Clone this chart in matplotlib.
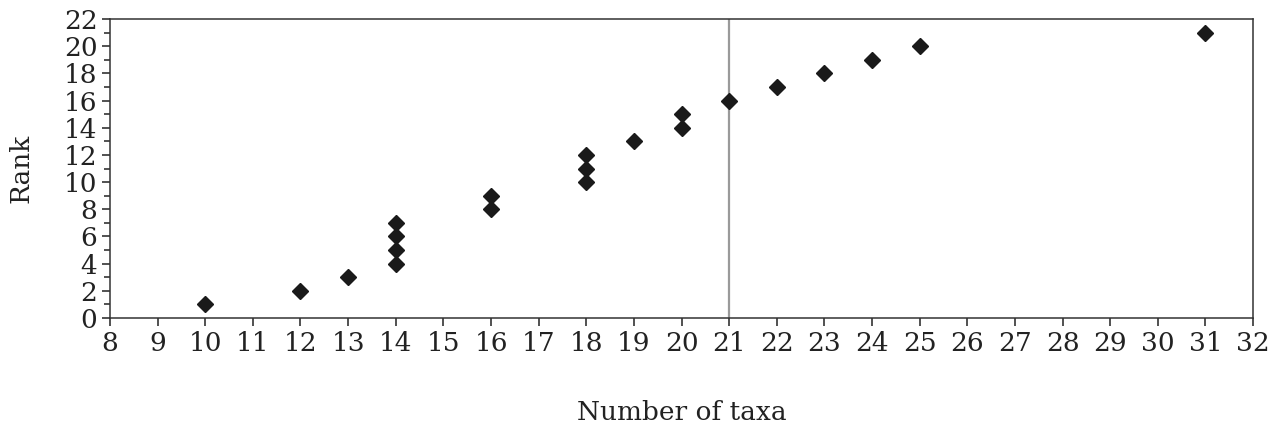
import numpy as np
import matplotlib
matplotlib.use('Agg')
import matplotlib.pyplot as plt

plt.rcParams['font.family'] = 'DejaVu Serif'

# number of taxa and the corresponding rank
taxa = [10, 12, 13, 14, 14, 14, 14, 16, 16, 18, 18, 18, 19, 20, 20, 21, 22, 23, 24, 25, 31]
rank = [1, 2, 3, 4, 5, 6, 7, 8, 9, 10, 11, 12, 13, 14, 15, 16, 17, 18, 19, 20, 21]
cutoff = 21

fig = plt.figure(figsize=(12.76, 4.29), dpi=100)
ax = fig.add_axes([0.0862, 0.2587, 0.8958, 0.697])

ax.axvline(cutoff, color='#9a9a9a', linewidth=1.6, zorder=1)
ax.plot(taxa, rank, linestyle='none', marker='D', markersize=8.5,
        color='#1a1a1a', zorder=3)

ax.set_xlim(8, 32)
ax.set_ylim(0, 22)
ax.set_xticks(np.arange(8, 33, 1))
ax.set_yticks(np.arange(0, 23, 2))
ax.set_yticks(np.arange(1, 22, 2), minor=True)

ax.tick_params(axis='both', which='major', direction='out', length=6, width=1.1,
               labelsize=19, colors='#222222', pad=3)
ax.tick_params(axis='y', which='minor', direction='out', length=4, width=1.1,
               colors='#222222')
ax.tick_params(top=False, right=False)

for s in ax.spines.values():
    s.set_linewidth(1.1)
    s.set_color('#333333')

ax.set_xlabel('Number of taxa', fontsize=19, labelpad=32, color='#222222')
ax.set_ylabel('Rank', fontsize=19, labelpad=22, color='#222222')

fig.savefig('out.png', dpi=100)
